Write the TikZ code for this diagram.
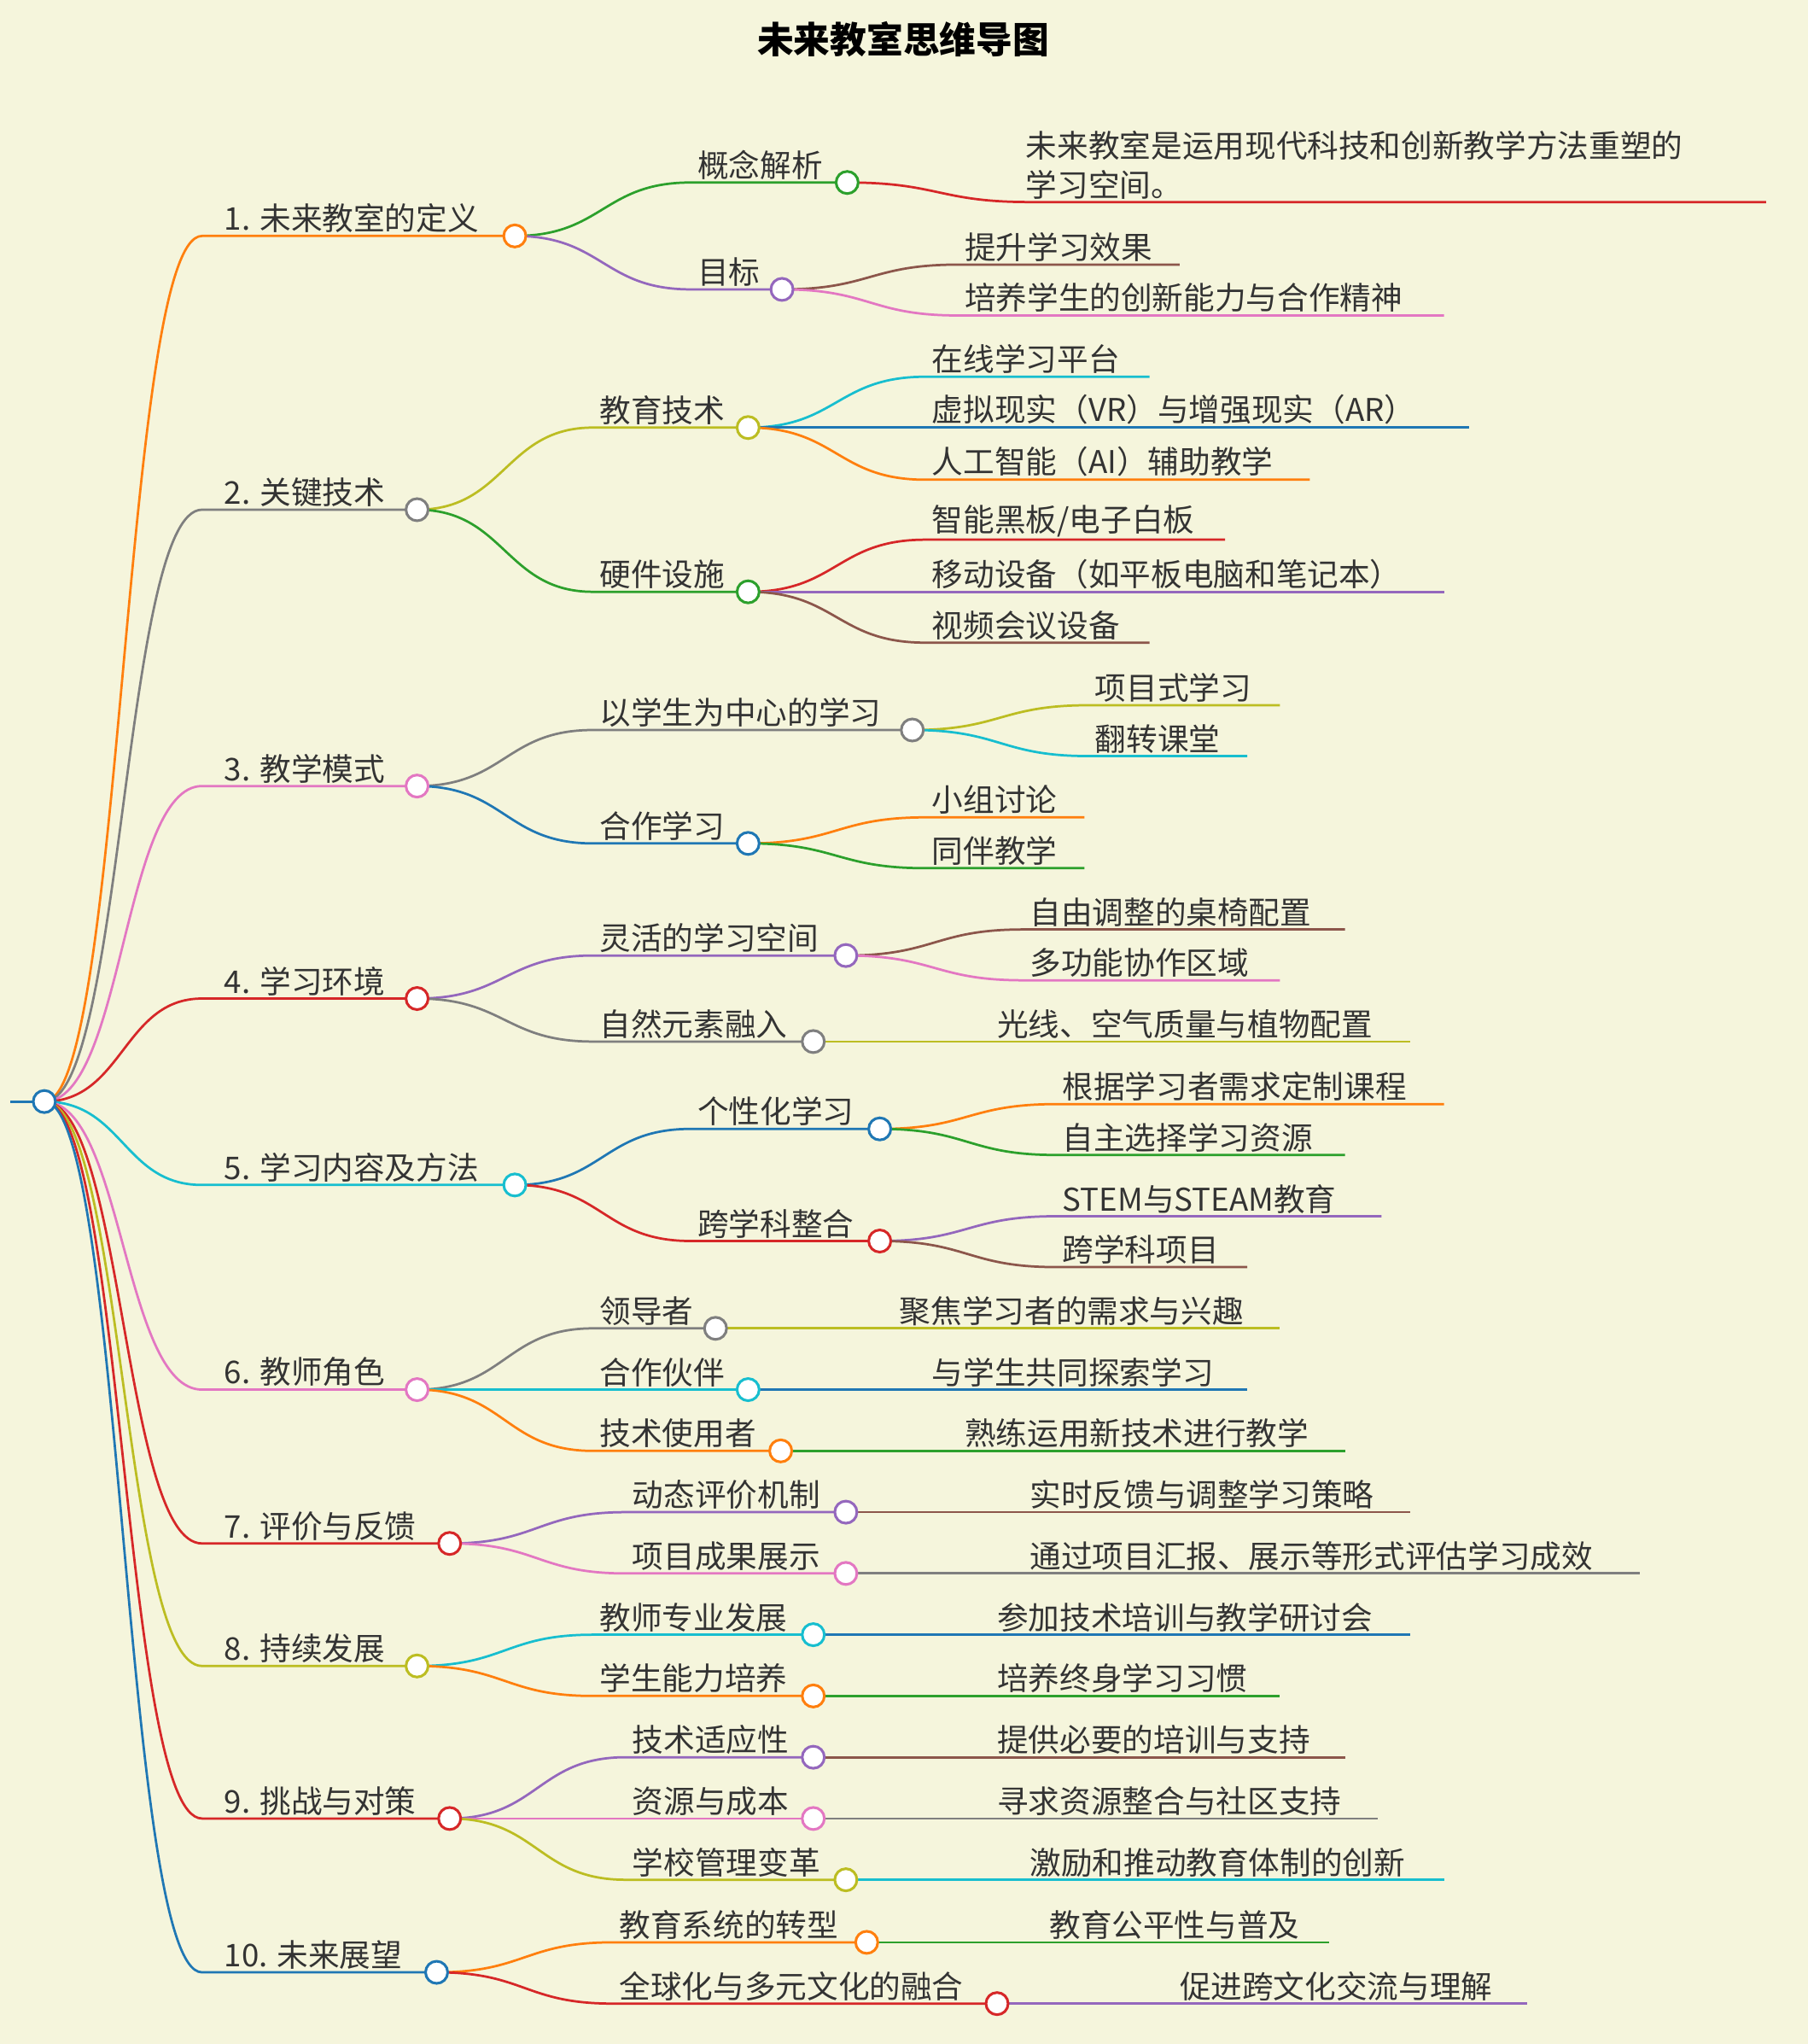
\documentclass[tikz,border=0pt]{standalone}
\usepackage{fontspec}
\setmainfont{Noto Sans CJK SC}
\pgfdeclarelayer{fg}
\pgfsetlayers{main,fg}
\definecolor{bg}{HTML}{F5F5DC}
\definecolor{cO}{HTML}{FF7F0E}\definecolor{cG}{HTML}{7F7F7F}\definecolor{cP}{HTML}{E377C2}
\definecolor{cR}{HTML}{D62728}\definecolor{cC}{HTML}{17BECF}\definecolor{cY}{HTML}{BCBD22}
\definecolor{cB}{HTML}{1F77B4}\definecolor{cN}{HTML}{2CA02C}\definecolor{cV}{HTML}{9467BD}
\definecolor{cW}{HTML}{8C564B}\definecolor{tx}{HTML}{333333}
\tikzset{ln/.style={line width=1.8pt},
 dot/.style={circle,draw=#1,fill=white,line width=2pt,minimum size=17pt,inner sep=0pt},
 lab/.style={anchor=south west,inner sep=2pt,text=tx,font=\fontsize{24}{30}\selectfont}}
\newcommand\mmE[6]{\draw[#1,ln] (#2,#3) .. controls ({(#2+#4)/2},#3) and ({(#2+#4)/2},#5) .. (#4,#5) -- (#6,#5);}
% level node: color x1 y1 x2 y2 x3 text name
\newcommand\mmL[8]{\mmE{#1}{#2}{#3}{#4}{#5}{#6}\node[lab] at (#4+3,#5) {#7};
 \begin{pgfonlayer}{fg}\node[dot=#1] (#8) at (#6,#5) {};\end{pgfonlayer}}
\newcommand\mmT[8]{\mmE{#1}{#2}{#3}{#4}{#5}{#6}\node[lab] at (#4+15,#5) {#7};
 \begin{pgfonlayer}{fg}\node[dot=#1] (#8) at (#6,#5) {};\end{pgfonlayer}}
\newcommand\mmF[7]{\mmE{#1}{#2}{#3}{#4}{#5}{#6}\node[lab] at (#4+3,#5) {#7};}
\begin{document}
\begin{tikzpicture}[x=1pt,y=-1pt]
\fill[bg] (0,0) rectangle (1387,1568);
\useasboundingbox (0,0) rectangle (1387,1568);
\node[font=\fontsize{28}{34}\selectfont\bfseries,text=black] (title) at (693,30) {未来教室思维导图};
\draw[cB,ln] (8,845) -- (34,845);
\begin{pgfonlayer}{fg}\node[dot=cB] (root) at (34,845) {};\end{pgfonlayer}
% 1
\mmT{cO}{34}{845}{155}{181}{395}{1. 未来教室的定义}{a}
\mmL{cN}{395}{181}{530}{140}{650}{概念解析}{a1}
\mmE{cR}{650}{140}{790}{155}{1355}
\node[lab,align=left] at (785,155) {未来教室是运用现代科技和创新教学方法重塑的\\学习空间。};
\mmL{cV}{395}{181}{530}{222}{600}{目标}{a2}
\mmF{cW}{600}{222}{735}{203}{905}{提升学习效果}
\mmF{cP}{600}{222}{735}{242}{1108}{培养学生的创新能力与合作精神}
% 2
\mmT{cG}{34}{845}{155}{391}{320}{2. 关键技术}{b}
\mmL{cY}{320}{391}{455}{328}{574}{教育技术}{b1}
\mmF{cC}{574}{328}{710}{289}{882}{在线学习平台}
\mmF{cB}{574}{328}{710}{328}{1127}{虚拟现实（VR）与增强现实（AR）}
\mmF{cO}{574}{328}{710}{368}{1005}{人工智能（AI）辅助教学}
\mmL{cN}{320}{391}{455}{454}{574}{硬件设施}{b2}
\mmF{cR}{574}{454}{710}{414}{940}{智能黑板/电子白板}
\mmF{cV}{574}{454}{710}{454}{1108}{移动设备（如平板电脑和笔记本）}
\mmF{cW}{574}{454}{710}{493}{882}{视频会议设备}
% 3
\mmT{cP}{34}{845}{155}{603}{320}{3. 教学模式}{c}
\mmL{cG}{320}{603}{455}{560}{700}{以学生为中心的学习}{c1}
\mmF{cY}{700}{560}{835}{541}{982}{项目式学习}
\mmF{cC}{700}{560}{835}{580}{957}{翻转课堂}
\mmL{cB}{320}{603}{455}{647}{574}{合作学习}{c2}
\mmF{cO}{574}{647}{710}{627}{832}{小组讨论}
\mmF{cN}{574}{647}{710}{666}{832}{同伴教学}
% 4
\mmT{cR}{34}{845}{155}{766}{320}{4. 学习环境}{d}
\mmL{cV}{320}{766}{455}{733}{649}{灵活的学习空间}{d1}
\mmF{cW}{649}{733}{785}{713}{1032}{自由调整的桌椅配置}
\mmF{cP}{649}{733}{785}{752}{982}{多功能协作区域}
\mmL{cG}{320}{766}{455}{799}{624}{自然元素融入}{d2}
\mmF{cY}{624}{799}{760}{799}{1082}{光线、空气质量与植物配置}
% 5
\mmT{cC}{34}{845}{155}{909}{395}{5. 学习内容及方法}{e}
\mmL{cB}{395}{909}{530}{866}{675}{个性化学习}{e1}
\mmF{cO}{675}{866}{810}{847}{1108}{根据学习者需求定制课程}
\mmF{cN}{675}{866}{810}{886}{1032}{自主选择学习资源}
\mmL{cR}{395}{909}{530}{952}{675}{跨学科整合}{e2}
\mmF{cV}{675}{952}{810}{933}{1060}{STEM与STEAM教育}
\mmF{cW}{675}{952}{810}{972}{957}{跨学科项目}
% 6
\mmT{cP}{34}{845}{155}{1066}{320}{6. 教师角色}{f}
\mmL{cG}{320}{1066}{455}{1019}{549}{领导者}{f1}
\mmF{cY}{549}{1019}{685}{1019}{982}{聚焦学习者的需求与兴趣}
\mmL{cC}{320}{1066}{455}{1066}{574}{合作伙伴}{f2}
\mmF{cB}{574}{1066}{710}{1066}{957}{与学生共同探索学习}
\mmL{cO}{320}{1066}{455}{1113}{599}{技术使用者}{f3}
\mmF{cN}{599}{1113}{735}{1113}{1032}{熟练运用新技术进行教学}
% 7
\mmT{cR}{34}{845}{155}{1184}{345}{7. 评价与反馈}{g}
\mmL{cV}{345}{1184}{480}{1160}{649}{动态评价机制}{g1}
\mmF{cW}{649}{1160}{785}{1160}{1082}{实时反馈与调整学习策略}
\mmL{cP}{345}{1184}{480}{1207}{649}{项目成果展示}{g2}
\mmF{cG}{649}{1207}{785}{1207}{1258}{通过项目汇报、展示等形式评估学习成效}
% 8
\mmT{cY}{34}{845}{155}{1278}{320}{8. 持续发展}{h}
\mmL{cC}{320}{1278}{455}{1254}{624}{教师专业发展}{h1}
\mmF{cB}{624}{1254}{760}{1254}{1082}{参加技术培训与教学研讨会}
\mmL{cO}{320}{1278}{455}{1301}{624}{学生能力培养}{h2}
\mmF{cN}{624}{1301}{760}{1301}{982}{培养终身学习习惯}
% 9
\mmT{cR}{34}{845}{155}{1395}{345}{9. 挑战与对策}{i}
\mmL{cV}{345}{1395}{480}{1348}{624}{技术适应性}{i1}
\mmF{cW}{624}{1348}{760}{1348}{1032}{提供必要的培训与支持}
\mmL{cP}{345}{1395}{480}{1395}{624}{资源与成本}{i2}
\mmF{cG}{624}{1395}{760}{1395}{1057}{寻求资源整合与社区支持}
\mmL{cY}{345}{1395}{480}{1442}{649}{学校管理变革}{i3}
\mmF{cC}{649}{1442}{785}{1442}{1108}{激励和推动教育体制的创新}
% 10
\mmT{cB}{34}{845}{155}{1513}{335}{10. 未来展望}{j}
\mmL{cO}{335}{1513}{470}{1490}{665}{教育系统的转型}{j1}
\mmF{cN}{665}{1490}{800}{1490}{1020}{教育公平性与普及}
\mmL{cR}{335}{1513}{470}{1537}{765}{全球化与多元文化的融合}{j2}
\mmF{cV}{765}{1537}{900}{1537}{1172}{促进跨文化交流与理解}
\end{tikzpicture}
\end{document}
